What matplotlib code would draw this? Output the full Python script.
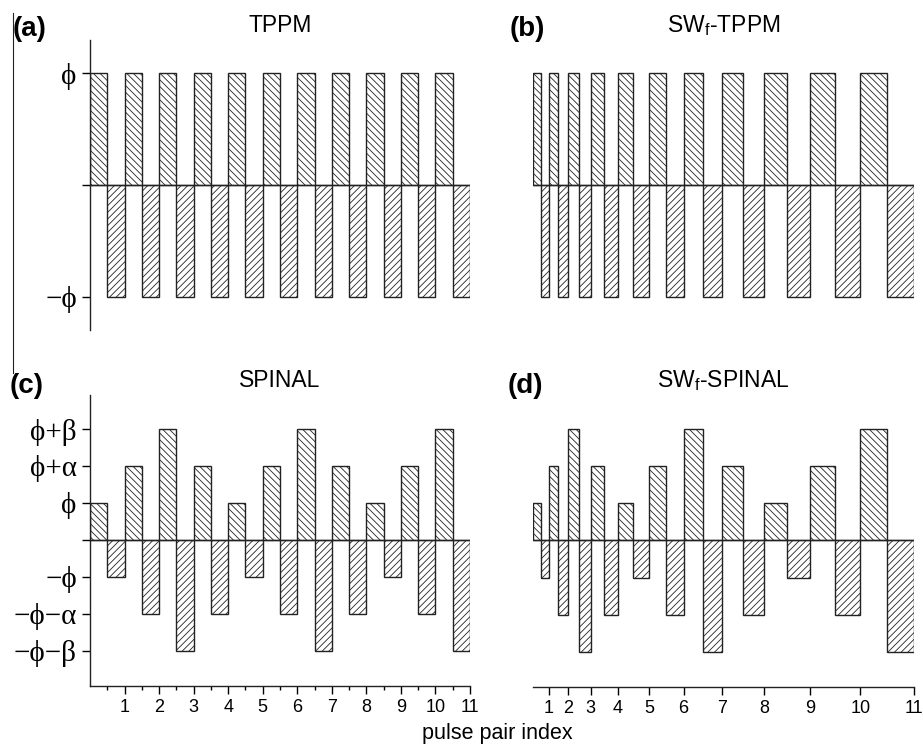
import matplotlib
matplotlib.use('Agg')
import matplotlib.pyplot as plt
from matplotlib.lines import Line2D
import numpy as np

plt.rcParams['font.family'] = ['Liberation Sans', 'DejaVu Sans']
plt.rcParams['mathtext.fontset'] = 'custom'
plt.rcParams['mathtext.rm'] = 'Liberation Sans'
plt.rcParams['mathtext.it'] = 'Liberation Sans:italic'
plt.rcParams['hatch.linewidth'] = 0.6

# --- data: pulse-pair durations (in units of one TPPM pair) and phase levels ---
pair_labels = ['1', '2', '3', '4', '5', '6', '7', '8', '9', '10', '11']
tppm_durations = [1, 1, 1, 1, 1, 1, 1, 1, 1, 1, 1]
swf_durations = [0.45, 0.56, 0.66, 0.78, 0.90, 1.00, 1.11, 1.21, 1.34, 1.44, 1.55]
tppm_levels = [1, 1, 1, 1, 1, 1, 1, 1, 1, 1, 1]
spinal_levels = [1, 2, 3, 2, 1, 2, 3, 2, 1, 2, 3]

tppm_yticks = [-1, 0, 1]
tppm_ylabels = ['\u2212\u03d5', '', '\u03d5']
spinal_yticks = [-3, -2, -1, 0, 1, 2, 3]
spinal_ylabels = ['\u2212\u03d5\u2212\u03b2', '\u2212\u03d5\u2212\u03b1', '\u2212\u03d5', '',
                  '\u03d5', '\u03d5+\u03b1', '\u03d5+\u03b2']

serif = ['Liberation Serif', 'DejaVu Serif']


def draw_pairs(ax, durations, levels):
    dur = np.array(durations, dtype=float)
    lev = np.array(levels, dtype=float)
    starts = np.concatenate([[0], np.cumsum(dur)[:-1]])
    ax.bar(starts, lev, width=dur / 2, align='edge', facecolor='white',
           edgecolor='#222222', linewidth=1.0, hatch='\\\\\\\\\\')
    ax.bar(starts + dur / 2, -lev, width=dur / 2, align='edge', facecolor='white',
           edgecolor='#222222', linewidth=1.0, hatch='/////')
    ax.plot([0, dur.sum()], [0, 0], color='#222222', lw=1.0)
    ax.set_xlim(0, dur.sum())
    ax.tick_params(direction='out', width=1.0, length=6)
    for s in ax.spines.values():
        s.set_linewidth(1.0)
        s.set_color('#222222')
        s.set_visible(False)
    return np.cumsum(dur)


fig = plt.figure(figsize=(9.23, 7.44), dpi=100)
W, H = 923, 744

ax_a = fig.add_axes([90 / W, 1 - 330 / H, 380 / W, 290 / H])
ax_b = fig.add_axes([533 / W, 1 - 330 / H, 381 / W, 290 / H])
ax_c = fig.add_axes([90 / W, 1 - 686 / H, 380 / W, 291 / H])
ax_d = fig.add_axes([533 / W, 1 - 687 / H, 381 / W, 292 / H])

# (a) TPPM
draw_pairs(ax_a, tppm_durations, tppm_levels)
ax_a.set_ylim(-1.3, 1.3)
ax_a.spines['left'].set_visible(True)
ax_a.set_xticks([])
ax_a.set_yticks(tppm_yticks)
ax_a.set_yticklabels(tppm_ylabels, fontsize=21, family=serif)

# (b) SWf-TPPM
draw_pairs(ax_b, swf_durations, tppm_levels)
ax_b.set_ylim(-1.3, 1.3)
ax_b.set_xticks([])
ax_b.set_yticks([])

# (c) SPINAL
bounds_c = draw_pairs(ax_c, tppm_durations, spinal_levels)
ax_c.set_ylim(-3.95, 3.92)
ax_c.spines['left'].set_visible(True)
ax_c.spines['bottom'].set_visible(True)
ax_c.set_yticks(spinal_yticks)
ax_c.set_yticklabels(spinal_ylabels, fontsize=21, family=serif)
ax_c.set_xticks(bounds_c)
ax_c.set_xticklabels(pair_labels, fontsize=13)
ax_c.set_xticks(bounds_c - 0.5, minor=True)
ax_c.tick_params(axis='x', which='minor', direction='out', length=3, width=1.0)

# (d) SWf-SPINAL
bounds_d = draw_pairs(ax_d, swf_durations, spinal_levels)
ax_d.set_ylim(-3.95, 3.92)
ax_d.spines['bottom'].set_visible(True)
ax_d.set_yticks([])
ax_d.set_xticks(bounds_d)
ax_d.set_xticklabels(pair_labels, fontsize=13)

ax_a.set_title('TPPM', fontsize=16.5, pad=6)
ax_b.set_title('SW$_\\mathrm{f}$-TPPM', fontsize=16.5, pad=6)
ax_c.set_title('SPINAL', fontsize=16.5, pad=6)
ax_d.set_title('SW$_\\mathrm{f}$-SPINAL', fontsize=16.5, pad=6)

for lab, x, y in [('(a)', 13, 29), ('(b)', 510, 29), ('(c)', 10, 386), ('(d)', 508, 386)]:
    fig.text(x / W, 1 - y / H, lab, fontsize=20, fontweight='bold', ha='left', va='center')

fig.text(497 / W, 1 - 733 / H, 'pulse pair index', fontsize=15.5, ha='center', va='center')

fig.add_artist(Line2D([13 / W, 13 / W], [1 - 13 / H, 1 - 373 / H], color='#222222', lw=0.8))

fig.savefig('out.png', dpi=100)
